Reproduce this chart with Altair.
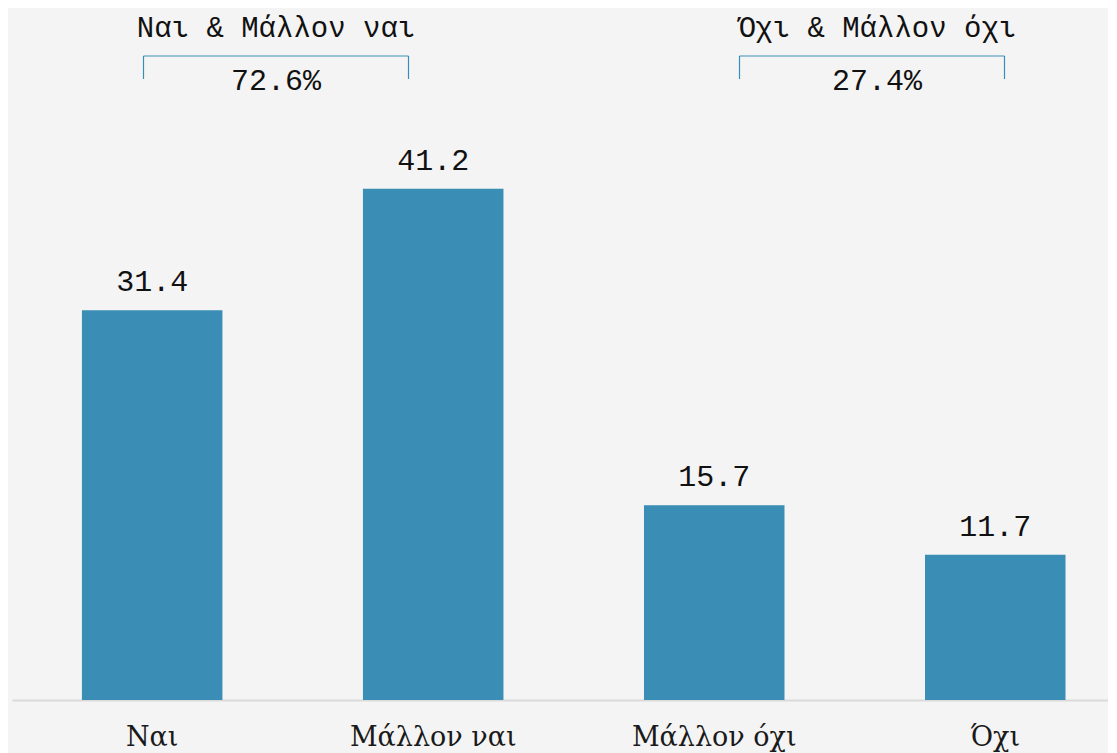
import altair as alt
import pandas as pd

categories = ["Ναι", "Μάλλον ναι", "Μάλλον όχι", "Όχι"]
values = [31.4, 41.2, 15.7, 11.7]
group_labels = ["Ναι & Μάλλον ναι", "Όχι & Μάλλον όχι"]
group_totals = ["72.6%", "27.4%"]

df = pd.DataFrame({"cat": categories, "val": values})

BAR = "#3a8eb5"
W, H = 1096, 692

x = alt.X("cat:N", sort=categories, title=None,
          scale=alt.Scale(paddingInner=0.5, paddingOuter=0.2, align=0.622),
          axis=alt.Axis(labelAngle=0, labelFont="DejaVu Serif", labelFontSize=27,
                        labelColor="#1a1a1a", labelPadding=24, ticks=False,
                        domainColor="#dadada", domainWidth=2, grid=False))
y = alt.Y("val:Q", scale=alt.Scale(domain=[0, 55.76], nice=False, zero=True),
          axis=None)

base = alt.Chart(df)
bars = base.mark_bar(color=BAR).encode(x=x, y=y)
labels = base.mark_text(font="Liberation Mono", fontSize=30, color="#111111",
                        baseline="bottom", dy=-13).encode(
    x=alt.X("cat:N", sort=categories), y="val:Q", text=alt.Text("val:Q", format=".1f"))

layers = [bars, labels]

# bracket annotations (pixel geometry relative to plot area)
brackets = [(131.5, 396.5, 264), (727.5, 992.5, 865)]
for (x1, x2, xc), gl, gt in zip(brackets, group_labels, group_totals):
    ann = alt.Chart(pd.DataFrame({"t": [gl], "p": [gt]}))
    layers.append(ann.mark_text(font="Liberation Mono", fontSize=29, color="#111111",
                                baseline="middle").encode(
        x=alt.value(xc), y=alt.value(20), text="t:N"))
    layers.append(ann.mark_text(font="Liberation Mono", fontSize=30, color="#111111",
                                baseline="middle").encode(
        x=alt.value(xc), y=alt.value(73), text="p:N"))
    layers.append(ann.mark_rule(color=BAR, strokeWidth=1.2).encode(
        x=alt.value(x1), x2=alt.value(x2), y=alt.value(48)))
    layers.append(ann.mark_rule(color=BAR, strokeWidth=1.2).encode(
        x=alt.value(x1), y=alt.value(48), y2=alt.value(71)))
    layers.append(ann.mark_rule(color=BAR, strokeWidth=1.2).encode(
        x=alt.value(x2), y=alt.value(48), y2=alt.value(71)))

chart = alt.layer(*layers).properties(
    width=W, height=H, background="#f4f4f4",
    padding={"left": 4, "right": 0, "top": 0, "bottom": 8}
).configure_view(stroke=None)

chart.save("out.html", embed_options={"renderer": "svg", "actions": False})
